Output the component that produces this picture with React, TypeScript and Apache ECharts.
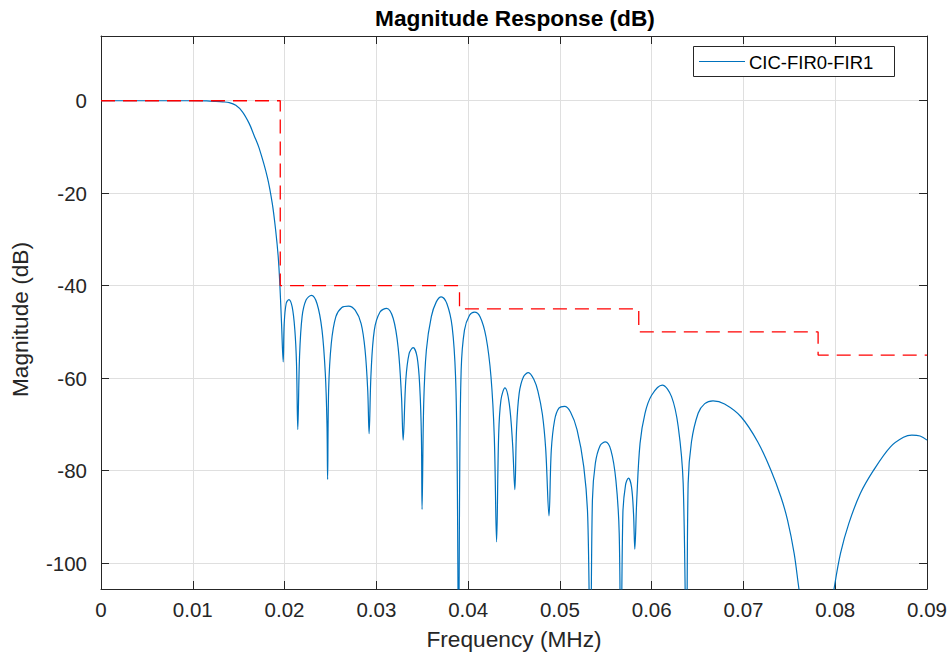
import React, { useEffect, useRef } from "react";
import * as echarts from "echarts";

// ---- data ----
const chartTitle = "Magnitude Response (dB)";
const xAxisName = "Frequency (MHz)";
const yAxisName = "Magnitude (dB)";
const responseName = "CIC-FIR0-FIR1";

// cascaded CIC-FIR0-FIR1 response: frequency (MHz) and magnitude (dB)
const freqMHz = [
  0, 0.002, 0.004, 0.006, 0.008, 0.01, 0.0115, 0.0125, 0.01325, 0.01397,
  0.01469, 0.01541, 0.01614, 0.01668, 0.01722, 0.01812, 0.01866, 0.01903, 0.01931, 0.01949,
  0.01967, 0.01985, 0.01996, 0.02018, 0.02047, 0.02083, 0.02112, 0.0213, 0.02144, 0.02163,
  0.02191, 0.02234, 0.02293, 0.02354, 0.02408, 0.02444, 0.02462, 0.02469, 0.0248, 0.02509,
  0.02559, 0.02624, 0.02697, 0.02769, 0.02834, 0.02877, 0.02906, 0.02921, 0.02942, 0.02978,
  0.0304, 0.03112, 0.03184, 0.03238, 0.03274, 0.03292, 0.03321, 0.03357, 0.03401, 0.03444,
  0.03473, 0.03491, 0.03498, 0.03516, 0.03545, 0.03599, 0.03653, 0.03707, 0.03769, 0.03826,
  0.03863, 0.03881, 0.03897, 0.03906, 0.03924, 0.0396, 0.04015, 0.04069, 0.0413, 0.04195,
  0.04249, 0.04285, 0.0431, 0.04332, 0.04357, 0.04401, 0.04448, 0.04484, 0.04509, 0.04527,
  0.04556, 0.04603, 0.04657, 0.04719, 0.0476, 0.04809, 0.04845, 0.04881, 0.04906, 0.04942,
  0.04989, 0.0505, 0.05115, 0.05187, 0.0526, 0.05303, 0.05332, 0.05354, 0.05386, 0.0544,
  0.05495, 0.05556, 0.0561, 0.05646, 0.05664, 0.05686, 0.05715, 0.05747, 0.0578, 0.05802,
  0.05816, 0.05837, 0.05873, 0.05927, 0.05999, 0.06115, 0.06216, 0.06289, 0.06343, 0.06379,
  0.06397, 0.06433, 0.06506, 0.06578, 0.06668, 0.06794, 0.06975, 0.07156, 0.07299, 0.07408,
  0.0748, 0.07552, 0.07606, 0.0779, 0.07985, 0.08057, 0.08148, 0.08274, 0.08418, 0.08599,
  0.08743, 0.08834, 0.08924, 0.09,
];
const magDB = [
  0, 0, 0, 0, 0, 0, -0.05, -0.15, -0.25, -0.4,
  -1.0, -2.4, -4.9, -7.5, -10.2, -16.5, -22.2, -28.0, -33.8, -39.9,
  -48.2, -56.5, -48.2, -43.8, -43.0, -44.6, -49.6, -56.8, -71.1, -55.4,
  -46.7, -43.1, -42.1, -43.9, -49.6, -59.0, -69.8, -81.9, -62.6, -52.5,
  -46.7, -44.7, -44.4, -45.3, -48.2, -53.9, -62.6, -72.0, -59.0, -49.6,
  -45.7, -44.9, -47.1, -53.5, -64.0, -73.4, -60.4, -54.7, -53.4, -55.4,
  -61.9, -72.7, -88.4, -65.5, -53.9, -46.7, -43.5, -42.4, -43.9, -48.9,
  -59.7, -79.9, -125, -87.1, -58.3, -49.6, -46.4, -45.7, -46.7, -51.1,
  -59.7, -72.7, -95.4, -72.7, -64.8, -62.1, -65.5, -74.1, -84.1, -71.2,
  -63.3, -59.7, -58.8, -60.4, -62.8, -67.8, -75.3, -89.8, -75.6, -69.1,
  -66.5, -66.1, -67.3, -71.2, -79.2, -90.0, -125, -86.4, -78.4, -74.5,
  -73.8, -75.6, -82.1, -93.6, -125, -89.3, -83.1, -81.6, -83.5, -89.3,
  -97.0, -86.4, -74.1, -67.6, -63.7, -61.5, -64.0, -70.5, -82.8, -125,
  -82.8, -73.8, -67.6, -65.5, -64.9, -65.6, -68.4, -73.8, -79.9, -85.7,
  -90.7, -97.9, -105.8, -130, -105.8, -97.9, -91.4, -84.9, -79.9, -74.9,
  -72.8, -72.3, -72.5, -73.4,
];

// stop-band mask (red dashed step line)
const maskFreq = [0, 0.01953, 0.01953, 0.03906, 0.03906, 0.05859, 0.05859, 0.07813, 0.07813, 0.09];
const maskDB = [0, 0, -40, -40, -45, -45, -50, -50, -55, -55];

// axis ranges / ticks
const xMin = 0;
const xMax = 0.09;
const xStep = 0.01;
const yMin = -105.6;
const yMax = 14;
const yStep = 20;

const FONT = '"Liberation Sans", Arial, Helvetica, sans-serif';
const AX = "#262626";
const GRID = "#dfdfdf";

export default function App() {
  const ref = useRef<HTMLDivElement>(null);

  useEffect(() => {
    if (!ref.current) return;
    const chart = echarts.init(ref.current, null, { renderer: "svg" });

    const yLabel = (v: number) =>
      Math.abs(v / yStep - Math.round(v / yStep)) < 1e-6 ? String(Math.round(v)) : "";

    const baseX = {
      type: "value" as const,
      min: xMin,
      max: xMax,
      interval: xStep,
    };
    const baseY = {
      type: "value" as const,
      min: yMin,
      max: yMax,
      splitNumber: 6,
    };

    chart.setOption({
      animation: false,
      backgroundColor: "#ffffff",
      title: {
        text: chartTitle,
        left: 510,
        top: 1,
        textAlign: "center",
        textStyle: { fontFamily: FONT, fontSize: 22.7, fontWeight: "bold", color: "#000" },
      },
      grid: { left: 101, right: 19, top: 36, bottom: 68 },
      xAxis: [
        {
          ...baseX,
          position: "bottom",
          name: xAxisName,
          nameLocation: "middle",
          nameGap: 38,
          nameTextStyle: { fontFamily: FONT, fontSize: 22.7, color: AX },
          axisLine: { show: true, onZero: false, lineStyle: { color: AX, width: 1 } },
          axisTick: { show: true, inside: true, length: 8, lineStyle: { color: AX } },
          axisLabel: { fontFamily: FONT, fontSize: 20.5, color: AX, margin: 10 },
          splitLine: { show: true, lineStyle: { color: GRID, width: 1 } },
        },
        {
          ...baseX,
          position: "top",
          axisLine: { show: true, onZero: false, lineStyle: { color: AX, width: 1 } },
          axisTick: { show: true, inside: true, length: 8, lineStyle: { color: AX } },
          axisLabel: { show: false },
          splitLine: { show: false },
        },
      ],
      yAxis: [
        {
          ...baseY,
          position: "left",
          name: yAxisName,
          nameLocation: "middle",
          nameGap: 70,
          nameRotate: 90,
          nameTextStyle: { fontFamily: FONT, fontSize: 22.7, color: AX, padding: [0, 14, 0, 0] },
          axisLine: { show: true, onZero: false, lineStyle: { color: AX, width: 1 } },
          axisTick: { show: true, inside: true, length: 8, lineStyle: { color: AX } },
          axisLabel: { fontFamily: FONT, fontSize: 20.5, color: AX, margin: 14, formatter: yLabel },
          splitLine: { show: true, lineStyle: { color: GRID, width: 1 } },
        },
        {
          ...baseY,
          position: "right",
          axisLine: { show: true, onZero: false, lineStyle: { color: AX, width: 1 } },
          axisTick: { show: true, inside: true, length: 8, lineStyle: { color: AX } },
          axisLabel: { show: false },
          splitLine: { show: false },
        },
      ],
      series: [
        {
          name: responseName,
          type: "line",
          xAxisIndex: 0,
          yAxisIndex: 0,
          data: freqMHz.map((f, i) => [f, magDB[i]]),
          showSymbol: false,
          symbol: "none",
          smooth: 0.35,
          clip: true,
          lineStyle: { color: "#0072BD", width: 1.2 },
          z: 2,
        },
        {
          name: "mask",
          type: "line",
          xAxisIndex: 0,
          yAxisIndex: 0,
          data: maskFreq.map((f, i) => [f, maskDB[i]]),
          showSymbol: false,
          symbol: "none",
          clip: true,
          lineStyle: { color: "#ff0000", width: 1.3, type: [14, 8] },
          z: 3,
        },
      ],
      graphic: [
        {
          type: "rect",
          shape: { x: 693.5, y: 46.5, width: 201, height: 30 },
          style: { fill: "#ffffff", stroke: AX, lineWidth: 1 },
          z: 10,
        },
        {
          type: "line",
          shape: { x1: 699, y1: 61.5, x2: 745, y2: 61.5 },
          style: { stroke: "#0072BD", lineWidth: 1.2 },
          z: 11,
        },
        {
          type: "text",
          x: 749,
          y: 62,
          style: {
            text: responseName,
            font: `18.5px ${FONT}`,
            fill: "#000",
            textVerticalAlign: "middle",
            verticalAlign: "middle",
          },
          z: 11,
        },
      ],
    });

    return () => chart.dispose();
  }, []);

  return (
    <div
      ref={ref}
      style={{ position: "absolute", left: 0, top: 0, width: 950, height: 657, background: "#fff" }}
    />
  );
}
